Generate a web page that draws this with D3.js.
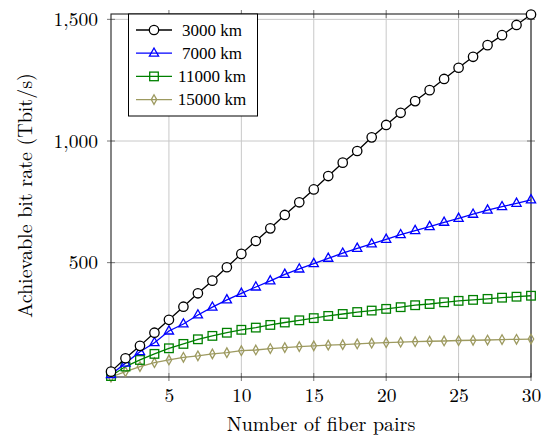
<!DOCTYPE html>
<html>
<head>
<meta charset="utf-8">
<script src="https://cdn.jsdelivr.net/npm/d3@7"></script>
<style>
  html, body { margin: 0; padding: 0; background: #fff; }
  svg { display: block; }
</style>
</head>
<body>
<svg id="chart" width="550" height="440"></svg>
<script>
// ---- data ----
const fiberPairs = d3.range(1, 31);
const km3000 = [52,107,158,212,265,319,374,426,481,536,589,641,696,748,801,856,911,959,1015,1066,1116,1164,1209,1255,1301,1346,1394,1435,1477,1520];
const km7000 = [40,87,134,171,219,248,285,317,347,374,400,425,452,474,496,518,539,559,577,596,615,632,648,666,682,699,716,730,744,758];
const km11000 = [34,73,100,125,148,166,185,199,212,224,233,244,254,263,272,281,289,297,303,310,317,325,330,337,343,347,351,356,360,364];
const km15000 = [30,52,73,89,100,111,117,125,130,138,141,147,151,155,158,161,163,166,169,171,173,175,177,178,180,181,182,184,185,186];
const seriesNames = ["3000 km", "7000 km", "11000 km", "15000 km"];
const xTicks = [5, 10, 15, 20, 25, 30];
const yTicks = [500, 1000, 1500];
const xLabel = "Number of fiber pairs";
const yLabel = "Achievable bit rate (Tbit/s)";

const seriesValues = [km3000, km7000, km11000, km15000];
const colors = ["#000000", "#0000ff", "#008000", "#9d9a60"];
const markers = ["circle", "triangle", "square", "diamond"];

// ---- layout ----
const L = 111, R = 531, T = 14, B = 377;
const svg = d3.select("#chart");
const cmFont = "Latin Modern Roman, Liberation Serif, serif";
const tmFont = "Liberation Serif, serif";

const x = d3.scaleLinear().domain([1, 30]).range([L, R]);
const y = d3.scaleLinear().domain([30, 1522]).range([B, T]);

// grid
const g = svg.append("g");
g.selectAll(".gx").data(xTicks).join("line")
  .attr("x1", d => x(d)).attr("x2", d => x(d))
  .attr("y1", T).attr("y2", B)
  .attr("stroke", "#c8c8c8").attr("stroke-width", 1);
g.selectAll(".gy").data(yTicks).join("line")
  .attr("x1", L).attr("x2", R)
  .attr("y1", d => y(d)).attr("y2", d => y(d))
  .attr("stroke", "#c8c8c8").attr("stroke-width", 1);

// axes (labels only; ticks drawn centered below)
const tk = 4;
const axB = d3.axisBottom(x).tickValues(xTicks).tickFormat(d3.format("d")).tickSize(0).tickPadding(0);
const axL = d3.axisLeft(y).tickValues(yTicks).tickFormat(d3.format(",")).tickSize(0);

const gxAxis = svg.append("g").attr("transform", `translate(0,${B})`).call(axB);
gxAxis.select(".domain").remove();
gxAxis.selectAll("text").style("font-family", cmFont).style("font-size", "19.5px").attr("fill", "#000")
  .attr("dy", null).attr("y", 25);

const gyAxis = svg.append("g").attr("transform", `translate(${L},0)`).call(axL);
gyAxis.select(".domain").remove();
gyAxis.selectAll("text").style("font-family", cmFont).style("font-size", "19.5px").attr("fill", "#000")
  .attr("x", -13).attr("dy", "0.32em");

// tick marks on all four sides
xTicks.forEach(v => {
  [B, T].forEach(yy => svg.append("line")
    .attr("x1", x(v)).attr("x2", x(v)).attr("y1", yy - tk).attr("y2", yy + tk)
    .attr("stroke", "#777").attr("stroke-width", 1));
});
yTicks.forEach(v => {
  [L, R].forEach(xx => svg.append("line")
    .attr("x1", xx - tk).attr("x2", xx + tk).attr("y1", y(v)).attr("y2", y(v))
    .attr("stroke", "#777").attr("stroke-width", 1));
});

// frame
svg.append("rect").attr("x", L).attr("y", T).attr("width", R - L).attr("height", B - T)
  .attr("fill", "none").attr("stroke", "#222").attr("stroke-width", 1.1);

// axis labels
svg.append("text").attr("x", (L + R) / 2).attr("y", 431).attr("text-anchor", "middle")
  .style("font-family", cmFont).style("font-size", "20px").text(xLabel);
svg.append("text").attr("transform", `translate(32,${(T + B) / 2}) rotate(-90)`)
  .attr("text-anchor", "middle").style("font-family", cmFont).style("font-size", "20px").text(yLabel);

// markers
function drawMarker(sel, type, color) {
  if (type === "circle") {
    sel.append("circle").attr("r", 4.7).attr("fill", "#fff").attr("stroke", color).attr("stroke-width", 1.3);
  } else if (type === "triangle") {
    sel.append("path").attr("d", "M0,-5.2L4.6,3L-4.6,3Z").attr("fill", "none").attr("stroke", color).attr("stroke-width", 1.3);
  } else if (type === "square") {
    sel.append("rect").attr("x", -4.3).attr("y", -4.3).attr("width", 8.6).attr("height", 8.6)
      .attr("fill", "none").attr("stroke", color).attr("stroke-width", 1.3);
  } else {
    sel.append("path").attr("d", "M0,-4.8L2.7,0L0,4.8L-2.7,0Z").attr("fill", "none").attr("stroke", color).attr("stroke-width", 1.3);
  }
}

const line = d3.line().x((d, i) => x(fiberPairs[i])).y(d => y(d));
for (let s = seriesValues.length - 1; s >= 0; s--) {
  const vals = seriesValues[s];
  svg.append("path").attr("d", line(vals)).attr("fill", "none")
    .attr("stroke", colors[s]).attr("stroke-width", 1.3);
  vals.forEach((v, i) => {
    const m = svg.append("g").attr("transform", `translate(${x(fiberPairs[i])},${y(v)})`);
    drawMarker(m, markers[s], colors[s]);
  });
}

// legend
const lg = svg.append("g");
lg.append("rect").attr("x", 128.5).attr("y", 14).attr("width", 129).attr("height", 102)
  .attr("fill", "#fff").attr("stroke", "#000").attr("stroke-width", 1);
const rowY = [30, 53.2, 76.4, 99.6];
seriesNames.forEach((name, i) => {
  lg.append("line").attr("x1", 136).attr("x2", 172).attr("y1", rowY[i]).attr("y2", rowY[i])
    .attr("stroke", colors[i]).attr("stroke-width", 1.3);
  const m = lg.append("g").attr("transform", `translate(154,${rowY[i]})`);
  drawMarker(m, markers[i], colors[i]);
  lg.append("text").attr("x", 212).attr("y", rowY[i] + 5.8).attr("text-anchor", "middle")
    .style("font-family", tmFont).style("font-size", "17px").text(name);
});
</script>
</body>
</html>
